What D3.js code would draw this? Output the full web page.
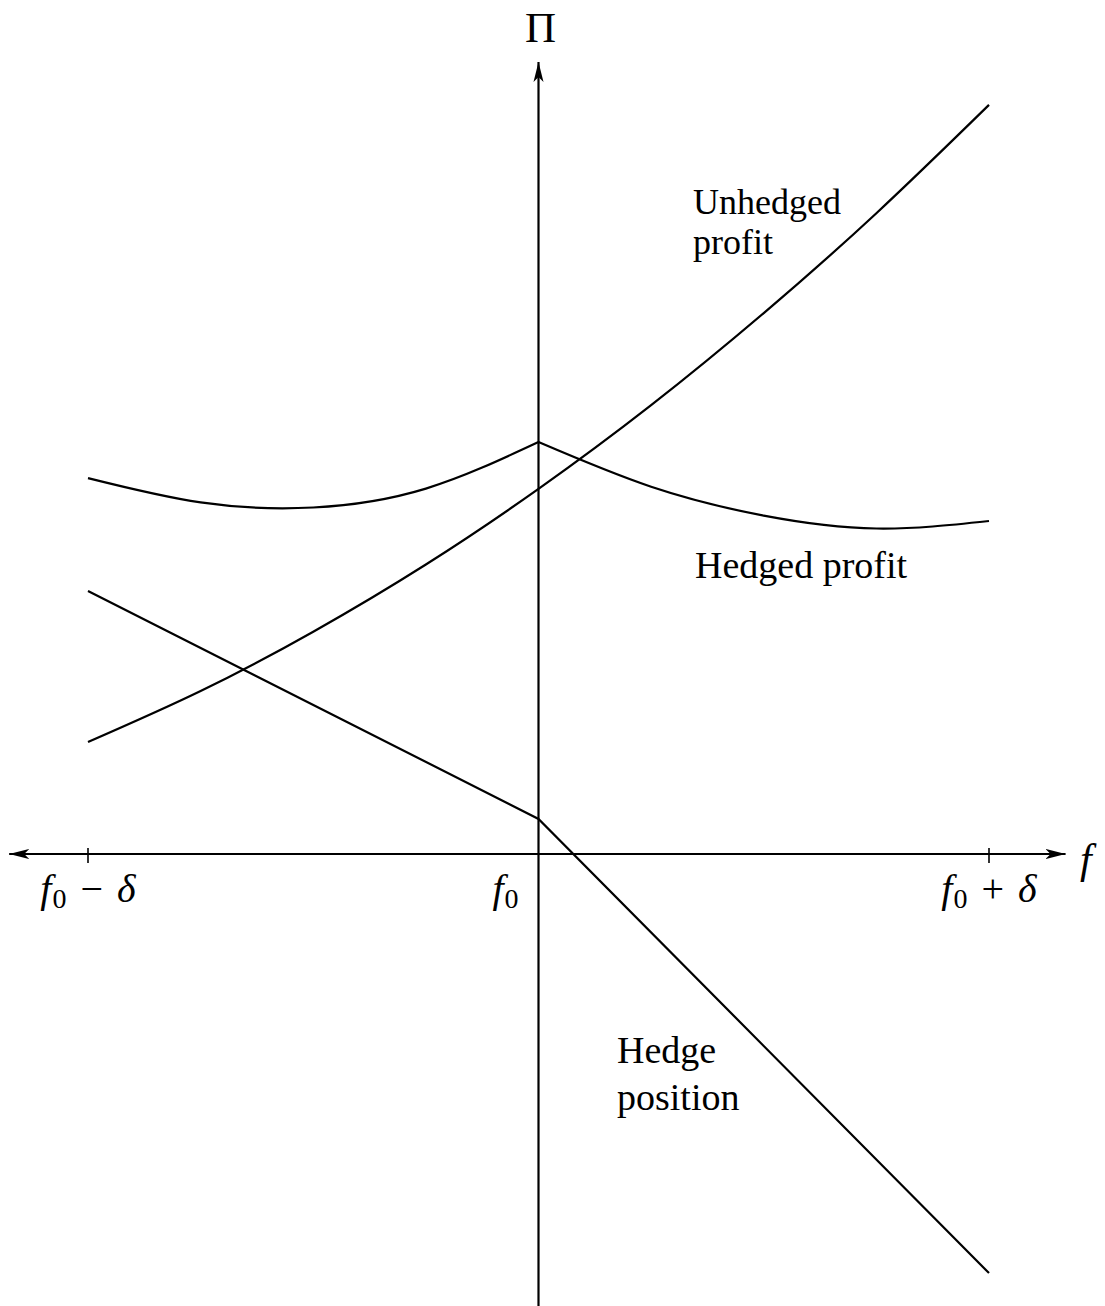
<!DOCTYPE html>
<html>
<head>
<meta charset="utf-8">
<script src="https://cdn.jsdelivr.net/npm/d3@7"></script>
<style>
  body { margin: 0; background: #fff; }
  svg { display: block; }
  text { font-family: "Liberation Serif", "DejaVu Serif", serif; fill: #000; }
</style>
</head>
<body>
<div id="chart"></div>
<script>
// f measured in units of delta around f0, profit in arbitrary units
var fLeft = [-1, -0.75, -0.5, -0.25, 0];
var fRight = [0, 0.25, 0.5, 0.75, 1];
var fAll = [-1, -0.75, -0.5, -0.25, 0, 0.25, 0.5, 0.75, 1];

var unhedged = [0.373, 0.543, 0.741, 0.965, 1.217, 1.496, 1.803, 2.136, 2.497];
var hedgedLeft = [1.253, 1.172, 1.155, 1.218, 1.373];
var hedgedRight = [1.373, 1.224, 1.128, 1.085, 1.11];

var fHedge = [-1, 0, 1];
var hedgePos = [0.877, 0.117, -1.397];

var fTicks = [-1, 0, 1];
var tickSigns = ["−", "", "+"];

var width = 1105, height = 1306;

var svg = d3.select("#chart")
    .append("svg")
    .attr("width", width)
    .attr("height", height);

var x = d3.scaleLinear().domain([-1, 1]).range([88, 989]);
var y = d3.scaleLinear().domain([0, 1]).range([854, 554]);

// arrowhead
svg.append("defs").append("marker")
    .attr("id", "arrow")
    .attr("viewBox", "0 0 20 12")
    .attr("refX", 20)
    .attr("refY", 6)
    .attr("markerWidth", 20)
    .attr("markerHeight", 12)
    .attr("markerUnits", "userSpaceOnUse")
    .attr("orient", "auto")
    .append("path")
    .attr("d", "M0,1 L20,6 L0,11 L5,6 Z")
    .attr("fill", "#000");

// axes
svg.append("line")
    .attr("x1", x(0)).attr("x2", x(-1.175))
    .attr("y1", y(0)).attr("y2", y(0))
    .attr("stroke", "#000").attr("stroke-width", 2.2)
    .attr("marker-end", "url(#arrow)");
svg.append("line")
    .attr("x1", x(0)).attr("x2", x(1.17))
    .attr("y1", y(0)).attr("y2", y(0))
    .attr("stroke", "#000").attr("stroke-width", 2.2)
    .attr("marker-end", "url(#arrow)");
svg.append("line")
    .attr("x1", x(0)).attr("x2", x(0))
    .attr("y1", y(-1.52)).attr("y2", y(2.64))
    .attr("stroke", "#000").attr("stroke-width", 2.2)
    .attr("marker-end", "url(#arrow)");

// ticks
svg.selectAll(".tick")
    .data(fTicks.filter(function (d) { return d !== 0; }))
    .enter().append("line")
    .attr("x1", function (d) { return x(d); })
    .attr("x2", function (d) { return x(d); })
    .attr("y1", y(0) - 6)
    .attr("y2", y(0) + 9)
    .attr("stroke", "#000").attr("stroke-width", 1.6);

// tick labels f0, f0 - delta, f0 + delta
fTicks.forEach(function (d, i) {
    var t = svg.append("text")
        .attr("y", y(0) + 48)
        .attr("font-size", 40)
        .attr("xml:space", "preserve");
    if (d === 0) {
        t.attr("x", x(0) - 20).attr("text-anchor", "end");
    } else {
        t.attr("x", x(d)).attr("text-anchor", "middle");
    }
    t.append("tspan").attr("font-style", "italic").text("f");
    t.append("tspan").attr("font-size", 28).attr("dy", 6).attr("dx", 1).text("0");
    if (tickSigns[i]) {
        t.append("tspan").attr("dy", -6).attr("dx", 4).text(" " + tickSigns[i] + " ");
        t.append("tspan").attr("dx", 4).attr("font-style", "italic").text("δ");
    }
});

// axis titles
svg.append("text")
    .attr("x", x(0) + 2).attr("y", 42)
    .attr("text-anchor", "middle")
    .attr("font-size", 43)
    .text("Π");
svg.append("text")
    .attr("x", 1080).attr("y", 873)
    .attr("font-size", 42)
    .attr("font-style", "italic")
    .text("f");

// curves
var smooth = d3.line()
    .x(function (d) { return x(d[0]); })
    .y(function (d) { return y(d[1]); })
    .curve(d3.curveNatural);
var straight = d3.line()
    .x(function (d) { return x(d[0]); })
    .y(function (d) { return y(d[1]); });

var series = [
    { line: smooth, pts: d3.zip(fAll, unhedged) },
    { line: smooth, pts: d3.zip(fLeft, hedgedLeft) },
    { line: smooth, pts: d3.zip(fRight, hedgedRight) },
    { line: straight, pts: d3.zip(fHedge, hedgePos) }
];
series.forEach(function (s) {
    svg.append("path")
        .attr("d", s.line(s.pts))
        .attr("fill", "none")
        .attr("stroke", "#000")
        .attr("stroke-width", 2.2)
        .attr("stroke-linejoin", "miter");
});

// curve labels
var labels = [
    { text: "Unhedged", x: 693, y: 214 },
    { text: "profit", x: 693, y: 254 },
    { text: "Hedged profit", x: 695, y: 578 },
    { text: "Hedge", x: 617, y: 1063 },
    { text: "position", x: 617, y: 1110 }
];
svg.selectAll(".lbl")
    .data(labels)
    .enter().append("text")
    .attr("x", function (d) { return d.x; })
    .attr("y", function (d) { return d.y; })
    .attr("font-size", function (d, i) { return i < 2 ? 36 : 38; })
    .text(function (d) { return d.text; });
</script>
</body>
</html>
